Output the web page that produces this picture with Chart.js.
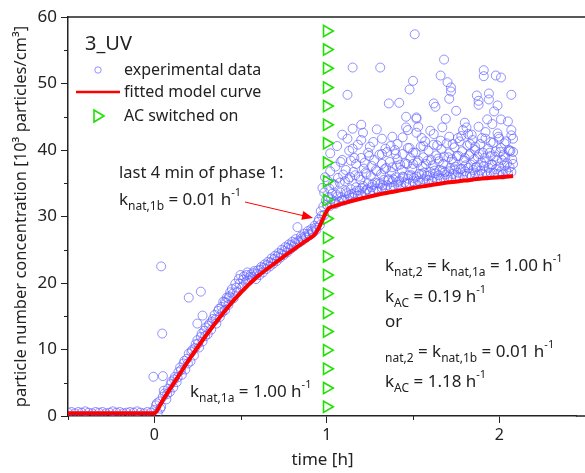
<!DOCTYPE html>
<html>
<head>
<meta charset="utf-8">
<script src="https://cdn.jsdelivr.net/npm/chart.js@4.4.0/dist/chart.umd.min.js"></script>
<style>
    html, body { margin: 0; padding: 0; background: #fff; }
    #wrap { width: 585px; height: 473px; }
</style>
</head>
<body>
<div id="wrap"><canvas id="graficoUV" width="585" height="473"></canvas></div>
<script>
// datos: tiempo [h], concentracion [10^3 particles/cm3]
const xLabelTicks = [0, 1, 2];
const yLabelTicks = [0, 10, 20, 30, 40, 50, 60];

const prePoints = [
    [-0.50,0.5],[-0.48,0.6],[-0.46,0.4],[-0.44,0.6],[-0.42,0.5],[-0.40,0.7],[-0.38,0.5],[-0.36,0.4],[-0.34,0.6],[-0.32,0.5],
    [-0.30,0.6],[-0.28,0.4],[-0.26,0.5],[-0.24,0.7],[-0.22,0.5],[-0.20,0.6],[-0.18,0.4],[-0.16,0.5],[-0.14,0.6],[-0.12,0.5],
    [-0.10,0.7],[-0.08,0.5],[-0.06,0.4],[-0.04,0.6],[-0.02,0.5]
];

const phase1Points = [
    [0.00,0.9],[0.01,1.6],[0.02,0.5],[0.03,2.2],[0.04,1.4],[0.05,2.9],[0.06,3.4],[0.07,2.5],[0.08,4.1],[0.09,3.6],
    [0.10,5.2],[0.11,4.3],[0.12,5.9],[0.13,5.1],[0.14,6.6],[0.15,7.3],[0.16,6.2],[0.17,7.9],[0.18,7.0],[0.19,8.6],
    [0.20,9.4],[0.21,8.2],[0.22,9.9],[0.23,9.1],[0.24,10.8],[0.25,11.4],[0.26,10.3],[0.27,11.9],[0.28,11.2],[0.29,12.8],
    [0.30,13.3],[0.31,12.3],[0.32,13.9],[0.33,13.0],[0.34,14.6],[0.35,15.2],[0.36,13.9],[0.37,15.8],[0.38,14.9],[0.39,16.4],
    [0.40,17.2],[0.41,15.9],[0.42,17.8],[0.43,16.7],[0.44,18.6],[0.45,19.1],[0.46,17.7],[0.47,19.9],[0.48,18.6],[0.49,20.6],
    [0.50,21.2],[0.51,19.4],[0.52,21.0],[0.53,20.1],[0.54,21.6],[0.55,20.4],[0.56,21.3],[0.57,20.9],[0.58,21.8],[0.59,20.6],
    [0.60,21.9],[0.61,21.2],[0.62,22.4],[0.63,21.6],[0.64,22.8],[0.65,22.1],[0.66,23.2],[0.67,22.5],[0.68,23.7],[0.69,22.9],
    [0.70,24.1],[0.71,23.3],[0.72,24.5],[0.73,23.8],[0.74,25.0],[0.75,24.2],[0.76,25.4],[0.77,24.6],[0.78,25.8],[0.79,25.1],
    [0.80,26.2],[0.81,25.5],[0.82,26.6],[0.83,28.4],[0.84,26.1],[0.85,27.0],[0.86,26.4],[0.87,27.4],[0.88,26.8],[0.89,27.8],
    [0.90,27.2],[0.91,28.1],[0.92,27.6],[0.93,28.6],[0.94,28.0],[0.95,29.2],[0.96,28.7],[0.97,30.1],[0.975,34.3],[0.98,31.5],
    [0.985,33.6],[0.99,35.9],[0.995,32.4]
];

const phase1Extra = [
    [0.015,1.9],[0.035,1.1],[0.055,3.8],[0.075,3.3],[0.095,4.8],[0.115,5.5],[0.135,5.8],[0.155,6.9],[0.175,8.3],[0.195,7.9],
    [0.215,9.6],[0.235,10.2],[0.255,10.9],[0.275,12.4],[0.295,12.0],[0.315,13.6],[0.335,14.2],[0.355,14.5],[0.375,16.1],[0.395,15.6],
    [0.415,17.0],[0.435,18.0],[0.455,18.4],[0.475,19.3],[0.495,19.9],[0.515,20.5],[0.535,21.2],[0.555,20.9],[0.575,21.5],[0.595,21.4],
    [0.615,22.0],[0.635,22.3],[0.655,22.7],[0.675,23.1],[0.695,23.6],[0.715,24.0],[0.735,24.4],[0.755,24.8],[0.775,25.3],[0.795,25.7],
    [0.815,26.0],[0.835,26.3],[0.855,26.7],[0.875,27.0],[0.895,27.4],[0.915,27.8],[0.935,28.3],[0.955,29.6],[0.965,30.8],[0.985,30.2]
];

const phase1Outliers = [
    [-0.005,5.9],[0.04,22.5],[0.046,12.4],[0.05,6.0],[0.20,17.8],[0.27,18.7],[0.25,13.9],[0.28,15.1],[0.41,17.2],[0.43,17.7]
];

const phase2Near = [
    [1.00,31.8],[1.01,32.9],[1.02,31.6],[1.03,33.4],[1.04,32.3],[1.05,31.9],[1.06,33.0],[1.07,32.2],[1.08,33.6],[1.09,32.5],
    [1.10,32.4],[1.11,33.8],[1.12,32.6],[1.13,33.2],[1.14,34.1],[1.15,32.9],[1.16,33.5],[1.17,34.4],[1.18,33.1],[1.19,33.9],
    [1.20,33.2],[1.21,34.6],[1.22,33.6],[1.23,34.0],[1.24,35.0],[1.25,33.7],[1.26,34.4],[1.27,33.9],[1.28,35.1],[1.29,34.2],
    [1.30,33.8],[1.31,34.9],[1.32,34.3],[1.33,35.5],[1.34,34.1],[1.35,34.7],[1.36,35.6],[1.37,34.4],[1.38,35.2],[1.39,34.6],
    [1.40,35.9],[1.41,34.8],[1.42,35.4],[1.43,34.5],[1.44,36.0],[1.45,35.1],[1.46,34.9],[1.47,35.7],[1.48,35.0],[1.49,36.2],
    [1.50,35.3],[1.51,34.9],[1.52,36.0],[1.53,35.4],[1.54,35.1],[1.55,36.4],[1.56,35.6],[1.57,35.0],[1.58,36.1],[1.59,35.5],
    [1.60,36.7],[1.61,35.3],[1.62,35.9],[1.63,36.5],[1.64,35.5],[1.65,36.2],[1.66,35.7],[1.67,36.9],[1.68,35.6],[1.69,36.3],
    [1.70,35.9],[1.71,36.8],[1.72,35.8],[1.73,36.4],[1.74,37.1],[1.75,36.0],[1.76,36.6],[1.77,35.9],[1.78,37.2],[1.79,36.2],
    [1.80,36.8],[1.81,36.1],[1.82,37.3],[1.83,36.4],[1.84,36.0],[1.85,37.0],[1.86,36.5],[1.87,37.5],[1.88,36.3],[1.89,36.9],
    [1.90,36.4],[1.91,37.6],[1.92,36.7],[1.93,36.2],[1.94,37.3],[1.95,36.6],[1.96,37.8],[1.97,36.5],[1.98,37.1],[1.99,36.4],
    [2.00,37.5],[2.01,36.8],[2.02,36.3],[2.03,37.7],[2.04,36.9],[2.05,36.5],[2.06,37.4],[2.07,36.7],[2.08,37.9],
    [1.025,32.6],[1.055,33.3],[1.085,32.9],[1.115,33.5],[1.145,33.4],[1.175,33.9],[1.205,34.3],[1.235,34.1],[1.265,34.8],[1.295,35.0],
    [1.325,34.7],[1.355,35.4],[1.385,35.6],[1.415,35.2],[1.445,35.9],[1.475,36.2],[1.505,35.8],[1.535,36.4],[1.565,36.6],[1.595,36.2],
    [1.625,36.9],[1.655,37.0],[1.685,36.7],[1.715,37.3],[1.745,37.5],[1.775,37.1],[1.805,37.7],[1.835,37.8],[1.865,37.4],[1.895,38.1],
    [1.925,38.2],[1.955,37.8],[1.985,38.4],[2.015,38.5],[2.045,38.0],[2.075,38.6]
];

const phase2Mid = [
    [1.005,35.4],[1.02,36.8],[1.035,34.9],[1.05,37.5],[1.065,35.8],[1.08,38.2],[1.095,36.3],[1.11,37.0],[1.125,35.6],[1.14,38.4],
    [1.155,36.7],[1.17,37.9],[1.185,36.0],[1.20,38.8],[1.215,37.2],[1.23,36.4],[1.245,39.1],[1.26,37.6],[1.275,38.5],[1.29,36.8],
    [1.305,39.3],[1.32,37.9],[1.335,37.1],[1.35,39.7],[1.365,38.2],[1.38,37.4],[1.395,40.0],[1.41,38.6],[1.425,37.8],[1.44,39.4],
    [1.455,38.0],[1.47,40.3],[1.485,38.8],[1.50,37.9],[1.515,39.6],[1.53,38.4],[1.545,40.5],[1.56,38.9],[1.575,37.9],[1.59,39.9],
    [1.605,38.5],[1.62,40.8],[1.635,39.2],[1.65,38.3],[1.665,40.1],[1.68,39.0],[1.695,41.0],[1.71,39.5],[1.725,38.6],[1.74,40.4],
    [1.755,39.1],[1.77,41.3],[1.785,39.8],[1.80,38.8],[1.815,40.7],[1.83,39.4],[1.845,41.5],[1.86,40.0],[1.875,39.0],[1.89,40.9],
    [1.905,39.6],[1.92,41.7],[1.935,40.2],[1.95,39.1],[1.965,41.1],[1.98,39.8],[1.995,42.0],[2.01,40.3],[2.025,39.3],[2.04,41.3],
    [2.055,40.0],[2.07,42.2],[2.08,39.7],
    [1.02,39.5],[1.06,40.6],[1.09,42.3],[1.13,39.9],[1.18,40.8],[1.21,42.6],[1.24,39.6],[1.27,41.2],[1.29,43.1],[1.34,40.2],
    [1.38,42.0],[1.41,40.9],[1.44,41.9],[1.48,40.3],[1.53,43.5],[1.57,41.3],[1.60,42.9],[1.64,40.7],[1.67,43.4],[1.71,42.0],
    [1.76,41.8],[1.79,43.0],[1.82,42.4],[1.86,40.5],[1.88,43.5],[1.92,42.7],[1.96,43.9],[1.99,42.5],[2.03,41.0],[2.05,44.3],
    [2.06,39.8],
    [1.015,34.2],[1.045,34.8],[1.075,35.1],[1.105,35.3],[1.135,35.9],[1.165,36.2],[1.195,35.5],[1.225,36.6],[1.255,36.1],[1.285,37.0],
    [1.315,36.4],[1.345,37.3],[1.375,36.7],[1.405,37.6],[1.435,37.0],[1.465,37.9],[1.495,37.2],[1.525,38.1],[1.555,37.5],[1.585,38.4],
    [1.615,37.7],[1.645,38.7],[1.675,37.9],[1.705,38.9],[1.735,38.2],[1.765,39.1],[1.795,38.4],[1.825,39.2],[1.855,38.6],[1.885,39.4],
    [1.915,38.8],[1.945,39.6],[1.975,39.0],[2.005,39.7],[2.035,38.9],[2.065,39.9]
];

const phase2Upper = [
    [1.51,57.4],[1.15,52.4],[1.31,52.4],[1.50,50.4],[1.48,49.1],[1.12,48.3],[1.36,47.0],[1.42,47.1],[1.46,45.0],[1.52,44.7],
    [1.15,43.2],[1.20,43.8],[1.46,43.4],[1.12,41.7],[1.20,41.5],[1.15,40.2],[1.25,40.5],[1.32,41.7],[1.37,40.6],[1.09,38.5],
    [1.16,38.8],[1.22,38.1],[1.32,39.4],[1.40,39.4],[1.50,39.6],[1.68,53.6],[1.91,52.0],[1.91,51.1],[1.98,51.2],[2.01,50.9],
    [1.66,51.2],[1.70,50.2],[1.72,49.4],[1.72,48.8],[1.71,47.7],[1.87,48.2],[1.94,48.5],[1.94,47.6],[2.07,48.3],[1.62,47.0],
    [1.63,46.5],[1.88,46.8],[1.99,46.7],[1.75,45.9],[1.97,45.8],[1.52,44.9],[1.69,44.7],[1.93,44.6],[2.01,44.6],[1.80,44.1],
    [1.81,43.4],[2.07,43.0],[1.52,42.6],[1.62,42.4],[1.84,42.3],[1.78,42.1],[1.90,41.8],[2.00,41.7],[2.08,41.7],[1.55,41.8],
    [1.66,41.4],[1.73,40.9],[1.56,40.6],[1.83,40.9],[1.95,41.2],[1.47,43.0],[1.88,47.4]
];

const modelTime = [-0.5, 0, 0.05, 0.1, 0.15, 0.2, 0.3, 0.4, 0.5, 0.6, 0.7, 0.8, 0.86, 0.9, 0.93, 0.96, 0.98, 1.0,
    1.01, 1.05, 1.1, 1.2, 1.3, 1.4, 1.5, 1.6, 1.7, 1.8, 1.9, 2.0, 2.08];
const modelConc = [0.4, 0.4, 2.4, 4.4, 6.4, 8.4, 12.1, 15.5, 18.5, 21.0, 23.0, 24.9, 26.0, 26.7, 27.3, 28.6, 29.8, 30.8,
    31.2, 31.6, 32.0, 32.7, 33.3, 33.8, 34.3, 34.7, 35.1, 35.4, 35.7, 35.9, 36.1];

const acTime = 1.0;
const acConc = [1.4, 4.2, 7.1, 9.9, 12.7, 15.5, 18.4, 21.2, 24.0, 26.8, 29.7, 32.5, 35.3, 38.1, 41.0, 43.8, 46.6, 49.4, 52.3, 55.1, 57.9];

const FONT = '"Noto Sans", "Open Sans", sans-serif';
const TXT = '#222';
const BLUE = 'rgba(100, 100, 255, 0.7)';
const GREEN = 'rgb(30, 225, 0)';

function toXY(list) {
    return list.map(function (p) { return { x: p[0], y: p[1] }; });
}

// texto con subindices / superindices
function drawRich(ctx, x, y, parts, size) {
    let cx = x;
    ctx.textBaseline = 'middle';
    ctx.textAlign = 'left';
    parts.forEach(function (p) {
        let txt, fs, dy;
        if (typeof p === 'string') { txt = p; fs = size; dy = 0; }
        else if (p.sub) { txt = p.sub; fs = Math.round(size * 0.72); dy = size * 0.38; }
        else { txt = p.sup; fs = Math.round(size * 0.66); dy = -size * 0.42; }
        ctx.font = fs + 'px ' + FONT;
        ctx.fillText(txt, cx, y + dy);
        cx += ctx.measureText(txt).width;
    });
}

const annotations = {
    id: 'annotations',
    afterDraw(chart) {
        const ctx = chart.ctx;
        const area = chart.chartArea;
        const xs = chart.scales.x, ys = chart.scales.y;
        ctx.save();

        // marco superior y prolongacion del eje x hasta el borde
        ctx.strokeStyle = TXT;
        ctx.lineWidth = 1.5;
        ctx.beginPath();
        ctx.moveTo(area.left, area.top);
        ctx.lineTo(chart.width, area.top);
        ctx.moveTo(area.right - 1, area.bottom);
        ctx.lineTo(chart.width, area.bottom);
        ctx.stroke();

        // ticks menores
        ctx.lineWidth = 1;
        ctx.beginPath();
        [5, 15, 25, 35, 45, 55].forEach(function (v) {
            const py = Math.round(ys.getPixelForValue(v)) + 0.5;
            ctx.moveTo(area.left - 4, py);
            ctx.lineTo(area.left, py);
        });
        [-0.5, 0.5, 1.5].forEach(function (v) {
            const px = Math.round(xs.getPixelForValue(v)) + 0.5;
            ctx.moveTo(px, area.bottom);
            ctx.lineTo(px, area.bottom + 4);
        });
        ctx.stroke();

        // leyenda
        ctx.fillStyle = TXT;
        ctx.font = '20px ' + FONT;
        ctx.textBaseline = 'middle';
        ctx.fillText('3_UV', 85, 44);
        ctx.font = '16px ' + FONT;
        ctx.fillText('experimental data', 124, 70);
        ctx.fillText('fitted model curve', 124, 92);
        ctx.fillText('AC switched on', 124, 116);

        ctx.strokeStyle = BLUE;
        ctx.lineWidth = 1;
        ctx.beginPath();
        ctx.arc(98, 70, 3.2, 0, Math.PI * 2);
        ctx.stroke();

        ctx.strokeStyle = '#ff0000';
        ctx.lineWidth = 2.5;
        ctx.beginPath();
        ctx.moveTo(76, 92);
        ctx.lineTo(120, 92);
        ctx.stroke();

        ctx.strokeStyle = GREEN;
        ctx.lineWidth = 1.6;
        ctx.beginPath();
        ctx.moveTo(94, 110);
        ctx.lineTo(104, 116);
        ctx.lineTo(94, 122);
        ctx.closePath();
        ctx.stroke();

        // anotaciones
        ctx.fillStyle = TXT;
        ctx.font = '16.5px ' + FONT;
        ctx.fillText('last 4 min of phase 1:', 119, 173);
        drawRich(ctx, 119, 200, ['k', { sub: 'nat,1b' }, ' = 0.01 h', { sup: '-1' }], 17);
        drawRich(ctx, 190, 392, ['k', { sub: 'nat,1a' }, ' = 1.00 h', { sup: '-1' }], 17);
        drawRich(ctx, 385, 266, ['k', { sub: 'nat,2' }, ' = k', { sub: 'nat,1a' }, ' = 1.00 h', { sup: '-1' }], 17);
        drawRich(ctx, 385, 297, ['k', { sub: 'AC' }, ' = 0.19 h', { sup: '-1' }], 17);
        ctx.font = '17px ' + FONT;
        ctx.fillText('or', 385, 322);
        drawRich(ctx, 385, 352, [{ sub: 'nat,2' }, ' = k', { sub: 'nat,1b' }, ' = 0.01 h', { sup: '-1' }], 17);
        drawRich(ctx, 385, 382, ['k', { sub: 'AC' }, ' = 1.18 h', { sup: '-1' }], 17);

        // flecha roja
        const ax0 = 245, ay0 = 202, ax1 = 313, ay1 = 218;
        const ang = Math.atan2(ay1 - ay0, ax1 - ax0);
        ctx.strokeStyle = '#ff0000';
        ctx.fillStyle = '#ff0000';
        ctx.lineWidth = 1;
        ctx.beginPath();
        ctx.moveTo(ax0, ay0);
        ctx.lineTo(ax1 - 9 * Math.cos(ang), ay1 - 9 * Math.sin(ang));
        ctx.stroke();
        ctx.beginPath();
        ctx.moveTo(ax1, ay1);
        ctx.lineTo(ax1 - 11 * Math.cos(ang) + 4.5 * Math.sin(ang), ay1 - 11 * Math.sin(ang) - 4.5 * Math.cos(ang));
        ctx.lineTo(ax1 - 11 * Math.cos(ang) - 4.5 * Math.sin(ang), ay1 - 11 * Math.sin(ang) + 4.5 * Math.cos(ang));
        ctx.closePath();
        ctx.fill();

        ctx.restore();
    }
};

document.addEventListener('DOMContentLoaded', function () {
    const ctx = document.getElementById('graficoUV').getContext('2d');

    const expData = toXY(prePoints.concat(phase1Points, phase1Extra, phase1Outliers, phase2Near, phase2Mid, phase2Upper));
    const modelData = modelTime.map(function (t, i) { return { x: t, y: modelConc[i] }; });
    const acData = acConc.map(function (v) { return { x: acTime, y: v }; });

    new Chart(ctx, {
        type: 'scatter',
        data: {
            datasets: [
                {
                    label: 'fitted model curve',
                    data: modelData,
                    showLine: true,
                    borderColor: '#ff0000',
                    borderWidth: 4,
                    pointRadius: 0,
                    cubicInterpolationMode: 'monotone',
                    order: 0
                },
                {
                    label: 'AC switched on',
                    data: acData,
                    pointStyle: 'triangle',
                    rotation: 90,
                    pointRadius: 6.5,
                    borderColor: GREEN,
                    backgroundColor: 'rgba(0,0,0,0)',
                    borderWidth: 1.6,
                    order: 1
                },
                {
                    label: 'experimental data',
                    data: expData,
                    pointStyle: 'circle',
                    pointRadius: 4.5,
                    borderColor: BLUE,
                    backgroundColor: 'rgba(0,0,0,0)',
                    borderWidth: 1,
                    order: 2
                }
            ]
        },
        options: {
            responsive: false,
            animation: false,
            layout: { padding: { top: 17, right: 0, left: 0, bottom: 0 } },
            plugins: {
                legend: { display: false },
                tooltip: { enabled: false }
            },
            scales: {
                x: {
                    type: 'linear',
                    min: -0.5,
                    max: 2.45,
                    afterFit: function (scale) {
                        scale.height = 57;
                        scale.paddingLeft = 0;
                        scale.paddingRight = 0;
                    },
                    border: { display: true, color: TXT, width: 1.5 },
                    grid: {
                        drawOnChartArea: false,
                        drawTicks: true,
                        tickLength: 7,
                        tickColor: function (c) {
                            return c.tick && xLabelTicks.indexOf(c.tick.value) >= 0 ? TXT : 'rgba(0,0,0,0)';
                        }
                    },
                    ticks: {
                        stepSize: 0.5,
                        autoSkip: false,
                        maxRotation: 0,
                        padding: 3,
                        color: TXT,
                        font: { family: FONT, size: 16 },
                        callback: function (v) { return xLabelTicks.indexOf(v) >= 0 ? String(v) : ''; }
                    },
                    title: {
                        display: true,
                        text: 'time [h]',
                        color: TXT,
                        font: { family: FONT, size: 17 },
                        padding: { top: 0, bottom: 3 }
                    }
                },
                y: {
                    type: 'linear',
                    min: 0,
                    max: 60,
                    afterFit: function (scale) { scale.width = 68; },
                    border: { display: true, color: TXT, width: 1.5 },
                    grid: {
                        drawOnChartArea: false,
                        drawTicks: true,
                        tickLength: 7,
                        tickColor: function (c) {
                            return c.tick && yLabelTicks.indexOf(c.tick.value) >= 0 ? TXT : 'rgba(0,0,0,0)';
                        }
                    },
                    ticks: {
                        stepSize: 5,
                        autoSkip: false,
                        padding: 4,
                        color: TXT,
                        font: { family: FONT, size: 17 },
                        callback: function (v) { return yLabelTicks.indexOf(v) >= 0 ? String(v) : ''; }
                    },
                    title: {
                        display: true,
                        text: 'particle number concentration [10³ particles/cm³]',
                        color: TXT,
                        font: { family: FONT, size: 16.5 },
                        padding: { top: 11, bottom: 0 }
                    }
                }
            }
        },
        plugins: [annotations]
    });
});
</script>
</body>
</html>
